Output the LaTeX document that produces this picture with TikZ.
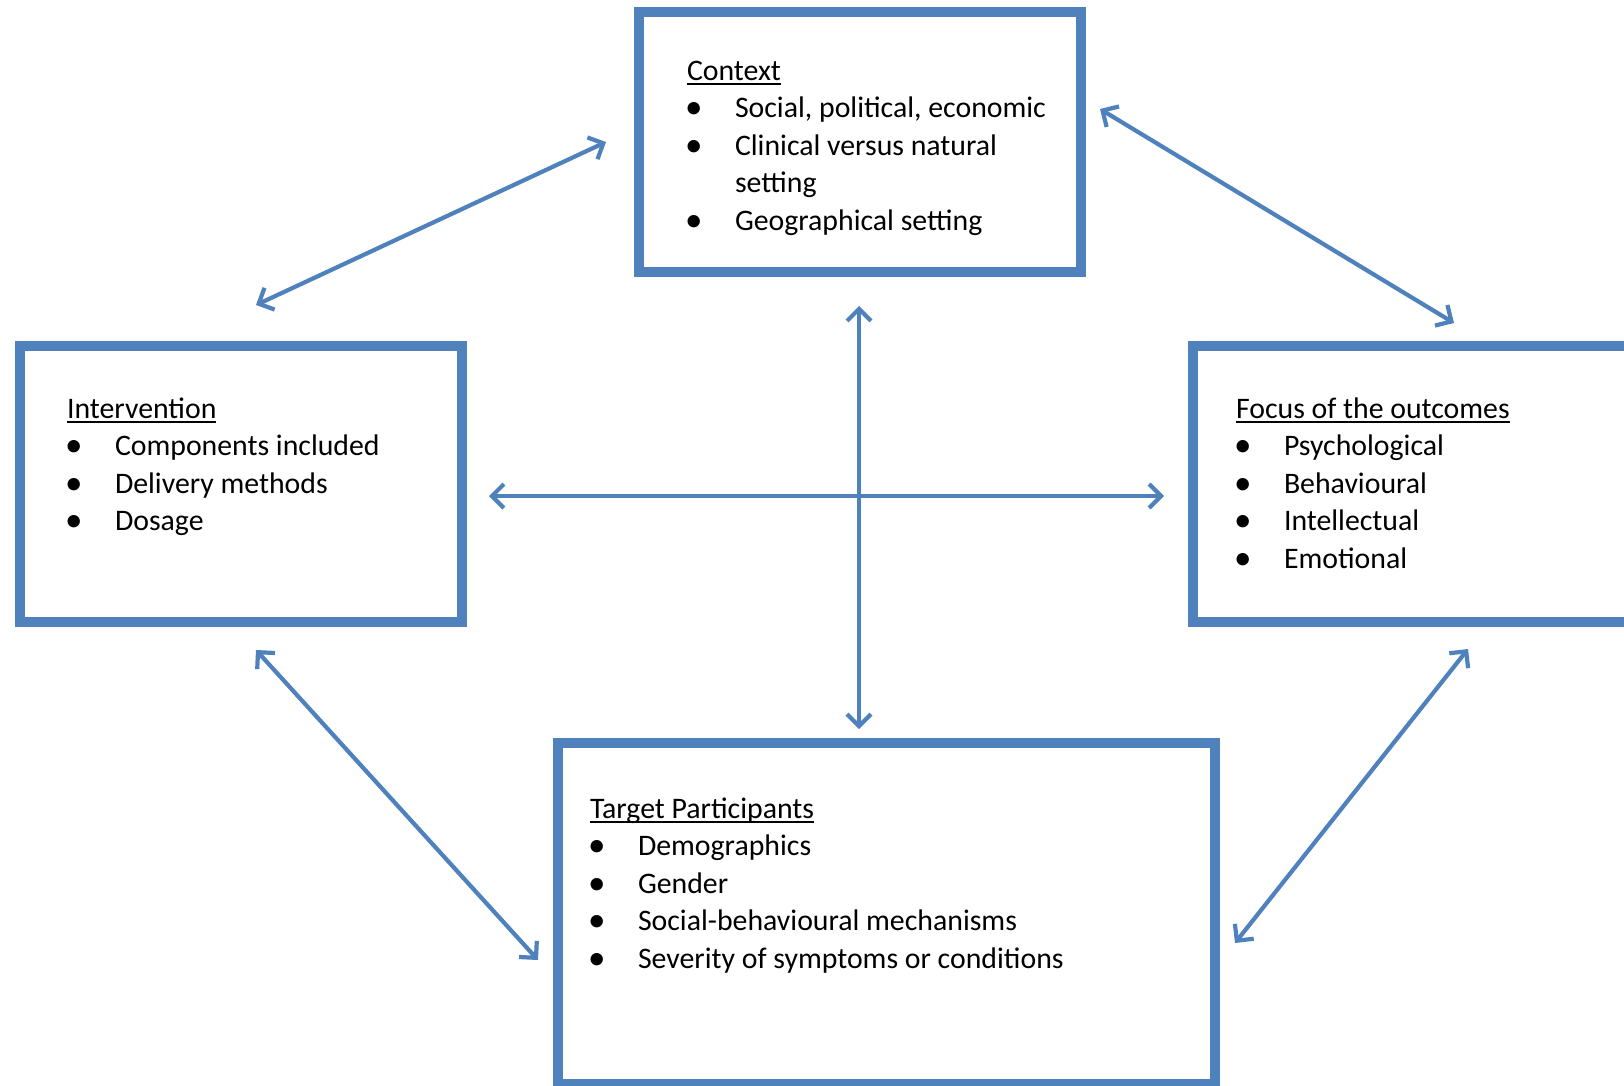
\documentclass[tikz,border=0pt]{standalone}
\usepackage{fontspec}
\setmainfont{Carlito}
\usetikzlibrary{arrows.meta}

\definecolor{frameblue}{RGB}{79,129,189}

% underline at a fixed depth, drawn across descenders
\newcommand\ulined[1]{\setbox0\hbox{#1}\rlap{\rule[-4.5pt]{\wd0}{1.8pt}}\box0}
\newcommand\bul{\hspace*{-2pt}{\fontsize{35}{37}\selectfont\raisebox{-1pt}{\textbullet}}}
% heading plus bullet rows, first baseline at the node's base
\newcommand\boxlist[2]{\begin{tabular}[t]{@{}p{48pt}@{}l@{}}\multicolumn{2}{@{}l@{}}{\ulined{#1}}\\#2\end{tabular}}

\tikzset{
  framebox/.style={draw=frameblue, line width=10pt, rectangle, outer sep=0pt, inner sep=0pt, fill=white},
  listtext/.style={anchor=base west, inner sep=0pt, outer sep=0pt, font=\fontsize{29.8}{37.6}\selectfont, text=black},
  link/.style={draw=frameblue, line width=4.2pt, {Straight Barb[length=12pt,width=24pt]}-{Straight Barb[length=12pt,width=24pt]}}
}

\begin{document}
\begin{tikzpicture}[x=1pt, y=-1pt]
  \useasboundingbox (0,0) rectangle (1624,1085);
  \fill[white] (0,0) rectangle (1624,1085);
  \clip (0,0) rectangle (1624,1085);

  % the four boxes
  \node[framebox, minimum width=442pt, minimum height=260pt] (ctx) at (860,142) {};
  \node[framebox, minimum width=442pt, minimum height=276pt] (intv) at (241,484) {};
  \node[framebox, minimum width=470pt, minimum height=276pt] (focus) at (1428,484) {};
  \node[framebox, minimum width=657pt, minimum height=341pt] (target) at (886.5,913.5) {};

  % box contents
  \node[listtext] (ctxtext) at (687,80) {\boxlist{Context}{%
    \bul & Social, political, economic\\
    \bul & Clinical versus natural\\
         & setting\\
    \bul & Geographical setting}};
  \node[listtext] (intvtext) at (67,418) {\boxlist{Intervention}{%
    \bul & Components included\\
    \bul & Delivery methods\\
    \bul & Dosage}};
  \node[listtext] (focustext) at (1236,418) {\boxlist{Focus of the outcomes}{%
    \bul & Psychological\\
    \bul & Behavioural\\
    \bul & Intellectual\\
    \bul & Emotional}};
  \node[listtext] (targettext) at (590,818) {\boxlist{Target Participants}{%
    \bul & Demographics\\
    \bul & Gender\\
    \bul & Social-behavioural mechanisms\\
    \bul & Severity of symptoms or conditions}};

  % ends of the two-way arrows
  \coordinate (ctxSW) at (606,142);
  \coordinate (intvN) at (256,305);
  \coordinate (ctxSE) at (1100,109);
  \coordinate (focusN) at (1454,323);
  \coordinate (midN) at (859,306);
  \coordinate (midS) at (859,729);
  \coordinate (midW) at (489,496);
  \coordinate (midE) at (1164,496);
  \coordinate (intvS) at (256,650);
  \coordinate (targetW) at (538,960);
  \coordinate (focusS) at (1468,649);
  \coordinate (targetE) at (1235,943);

  \draw[link] (ctxSW) -- (intvN);
  \draw[link] (ctxSE) -- (focusN);
  \draw[link] (midN) -- (midS);
  \draw[link] (midW) -- (midE);
  \draw[link] (intvS) -- (targetW);
  \draw[link] (focusS) -- (targetE);
\end{tikzpicture}
\end{document}
